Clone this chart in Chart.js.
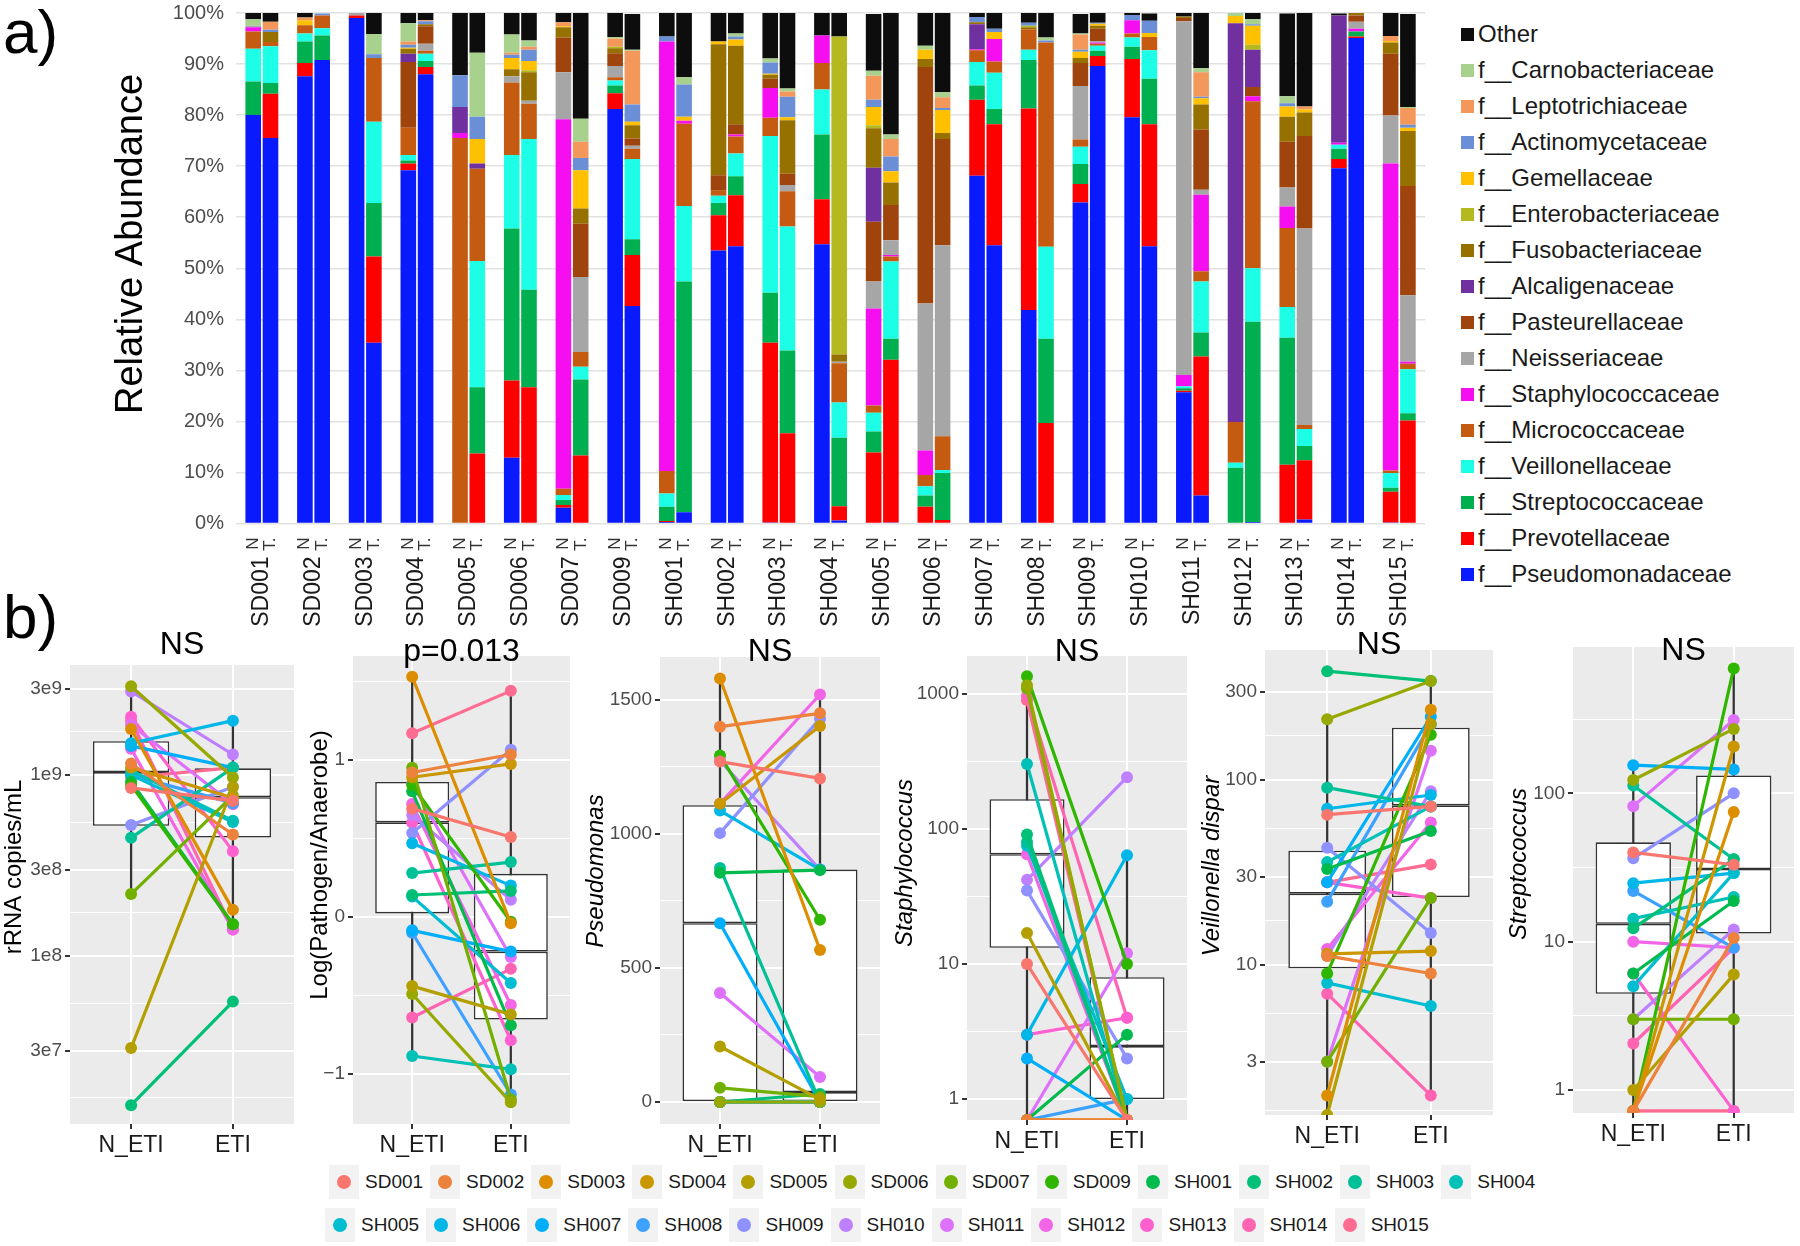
<!DOCTYPE html>
<html>
<head>
<meta charset="utf-8">
<script src="https://cdn.jsdelivr.net/npm/chart.js@4.4.0/dist/chart.umd.min.js"></script>
<style>
  html, body { margin: 0; padding: 0; background: #fff; }
  body { width: 1800px; height: 1246px; position: relative; overflow: hidden; font-family: 'Liberation Sans', Arial, sans-serif; }
  .holder { position: absolute; }
  .tag { position: absolute; font-size: 62px; line-height: 1; color: #000; }
  #famLegend { position: absolute; left: 1461px; top: 16px; }
  #famLegend div { height: 36px; display: flex; align-items: center; font-size: 24px; color: #1a1a1a; white-space: nowrap; }
  #famLegend span { width: 13px; height: 13px; margin-right: 4px; display: inline-block; }
  .subjRow { position: absolute; display: flex; align-items: center; }
  .subjItem { display: flex; align-items: center; margin-right: 7px; font-size: 19px; color: #1a1a1a; }
  .subjKey { width: 30px; height: 34px; background: #f2f2f2; display: flex; align-items: center; justify-content: center; margin-right: 6px; }
  .subjKey i { width: 14px; height: 14px; border-radius: 50%; display: block; }
</style>
</head>
<body>
<div class="tag" style="left:3px; top:1px;">a)</div>
<div class="tag" style="left:3px; top:586px;">b)</div>

<div class="holder" style="left:0; top:-11px;"><canvas id="chartA" width="1460" height="651"></canvas></div>
<div id="famLegend"></div>

<div class="holder" style="left:-6px; top:600px;"><canvas id="p1"></canvas></div>
<div class="holder" style="left:300px; top:600px;"><canvas id="p2"></canvas></div>
<div class="holder" style="left:575px; top:600px;"><canvas id="p3"></canvas></div>
<div class="holder" style="left:885px; top:600px;"><canvas id="p4"></canvas></div>
<div class="holder" style="left:1192px; top:600px;"><canvas id="p5"></canvas></div>
<div class="holder" style="left:1498px; top:600px;"><canvas id="p6"></canvas></div>

<div class="subjRow" id="subjRow1" style="left:329px; top:1165px;"></div>
<div class="subjRow" id="subjRow2" style="left:325px; top:1208px;"></div>

<script>
// ---------- Panel a: relative abundance per sample (N, T pairs) ----------
const subjects = ['SD001', 'SD002', 'SD003', 'SD004', 'SD005', 'SD006', 'SD007', 'SD009',
    'SH001', 'SH002', 'SH003', 'SH004', 'SH005', 'SH006', 'SH007', 'SH008', 'SH009',
    'SH010', 'SH011', 'SH012', 'SH013', 'SH014', 'SH015'];

// 46 values each: SD001 N, SD001 T, SD002 N, SD002 T, ...
const pseudomonadaceae = [80, 75.5, 87.6, 90.8, 99.0, 35.4, 69.2, 88.0, 0, 0, 12.9, 0, 3.1, 0, 81.2, 42.6, 0.3, 2.2, 53.5, 54.3, 0.2, 0, 54.7, 0.6, 0, 0.2, 0, 0, 68.1, 54.5, 41.8, 0, 62.9, 89.6, 79.6, 54.3, 25.7, 5.5, 0, 0.3, 0, 0.8, 69.6, 95.1, 0.2, 0];
const prevotellaceae = [0, 8.7, 2.6, 0, 0.5, 16.9, 1.3, 1.4, 0, 13.7, 15.1, 26.7, 0.5, 13.3, 3.1, 10.0, 0.2, 0, 6.9, 10.0, 35.2, 17.7, 8.8, 2.8, 13.9, 31.9, 3.3, 0.7, 14.9, 23.7, 39.5, 19.7, 3.6, 2.0, 11.4, 23.9, 0.3, 27.2, 0, 0, 11.5, 11.6, 1.8, 0.3, 6.0, 20.2];
const streptococcaceae = [6.6, 2.1, 4.2, 4.8, 0, 10.5, 0.6, 1.2, 0, 13.0, 29.8, 19.1, 1.0, 14.9, 1.5, 3.1, 2.8, 45.2, 2.4, 3.7, 9.8, 16.2, 12.7, 13.4, 4.1, 4.1, 2.2, 9.2, 2.8, 3.0, 9.5, 16.5, 3.9, 1.0, 2.4, 8.9, 0.5, 4.7, 10.9, 39.2, 24.9, 2.8, 2.0, 1.0, 0.8, 1.4];
const veillonellaceae = [6.4, 7.2, 1.6, 1.4, 0, 15.9, 1.1, 1.4, 0, 24.7, 14.4, 29.5, 1.0, 2.5, 1.0, 15.7, 2.6, 14.8, 1.4, 4.5, 30.7, 24.3, 8.8, 6.9, 3.7, 15.1, 1.8, 0.6, 4.6, 7.1, 2.0, 18.0, 3.4, 1.0, 1.8, 5.6, 0.4, 10.0, 1.0, 10.5, 6.0, 3.3, 0.8, 0, 2.9, 8.6];
const micrococcaceae = [3.4, 0.8, 1.6, 2.5, 0, 12.5, 5.3, 0.6, 75.5, 18.1, 14.2, 6.9, 1.2, 2.9, 0.6, 2.0, 4.4, 16.1, 1.0, 3.3, 3.6, 6.9, 5.2, 7.7, 1.4, 1.0, 2.2, 6.6, 2.3, 2.2, 4.0, 40.0, 1.4, 0.4, 0.8, 2.6, 0, 2.0, 8.0, 32.7, 15.5, 0.8, 0, 0, 0.5, 1.1];
const staphylococcaceae = [0.8, 0, 0, 0, 0, 0, 0, 0, 1.0, 0, 0, 0, 72.4, 0, 0, 0, 84.1, 0.6, 0, 0.4, 5.8, 0, 5.4, 0, 19.0, 0.3, 4.8, 0, 0.2, 4.4, 0, 0, 0, 0.2, 2.6, 0, 2.2, 15.0, 0, 1.0, 4.2, 0, 0.4, 0.5, 60.1, 0.4];
const neisseriaceae = [0.3, 0, 0, 0, 0.5, 0, 0, 1.4, 0, 0, 1.2, 0.6, 9.2, 14.7, 2.2, 0.6, 0, 0, 0, 0, 0, 1.2, 0, 0.3, 5.3, 2.9, 28.8, 37.4, 0, 0, 0, 0, 10.5, 0.3, 0, 0, 69.3, 1.0, 0, 0, 3.7, 38.5, 0, 1.4, 9.4, 13.0];
const pasteurellaceae = [0, 0, 0, 0, 0, 0, 12.9, 3.4, 0, 0, 0, 0, 6.8, 10.4, 2.5, 1.4, 0, 0, 3.0, 2.0, 1.8, 2.2, 0, 0, 11.7, 6.9, 46.3, 20.8, 0, 0, 0, 0, 4.5, 2.4, 0, 0, 0.6, 11.8, 0, 1.8, 9.0, 18.1, 0, 1.2, 12.1, 21.4];
const alcaligenaceae = [0, 0, 0, 0, 0, 0, 1.6, 0, 5.1, 1.0, 0, 0, 0, 0, 0, 0, 0, 0, 0, 0, 0, 0, 0, 0, 10.6, 0, 0, 0, 4.9, 0, 0, 0, 0, 0, 0, 0, 0, 0, 78.1, 7.3, 0, 0, 24.9, 0, 0, 0];
const fusobacteriaceae = [0, 2.0, 0, 0, 0, 0, 1.0, 0.4, 0, 0, 1.4, 5.6, 2.0, 3.0, 1.0, 2.6, 0, 0, 25.7, 15.4, 0.8, 10.5, 0, 1.4, 7.7, 4.4, 1.6, 1.2, 0.4, 0, 0.4, 0, 1.0, 0.6, 0, 0, 0.3, 4.9, 0, 0, 4.9, 4.6, 0, 0.5, 2.2, 10.8];
const enterobacteriaceae = [0, 0, 0, 0, 0, 0, 0, 0, 0, 0, 0, 0.4, 0, 0, 0.3, 0, 0, 0, 0, 0, 0, 0, 0, 62.3, 0.6, 0, 0, 0, 0, 0, 0.3, 0, 0, 0, 0, 0, 0, 0, 0, 1.0, 0, 0, 0, 0, 0, 0];
const gemellaceae = [0, 0, 1.0, 0, 0, 0, 0.2, 0, 0, 4.8, 2.2, 1.8, 0.2, 7.5, 0, 0.7, 0, 0.8, 0.5, 1.2, 0.2, 0.6, 0, 0, 3.6, 2.2, 1.8, 4.5, 0, 1.4, 0, 0, 1.2, 0.4, 0, 0.8, 0, 1.2, 1.4, 3.7, 2.0, 0.6, 0, 0, 0.3, 0.6];
const actinomycetaceae = [0, 0.4, 0, 0.4, 0, 0.7, 0.6, 0.6, 6.2, 4.4, 0.6, 2.2, 0, 2.4, 0, 3.4, 1.0, 6.3, 0, 0.6, 2.2, 4.0, 0, 0, 1.4, 2.9, 0, 0.4, 1.0, 0.6, 0.6, 0.4, 0.4, 0.2, 1.0, 2.4, 0, 0.3, 0, 0.3, 0.6, 0, 0, 0, 0, 0.6];
const leptotrichiaceae = [0, 1.6, 0.5, 0, 0, 0, 0.6, 0.2, 0, 0, 0.4, 0.6, 0.8, 3.2, 1.6, 10.5, 0, 0, 0, 0, 0, 1.0, 0, 0, 4.7, 3.4, 0, 2.1, 0, 0, 0, 0, 3.0, 0, 0, 0, 0, 4.8, 0, 0, 0, 0.6, 0, 0, 1.0, 3.3];
const carnobacteriaceae = [1.3, 0, 0, 0, 0, 4.0, 3.6, 0, 0, 12.5, 3.6, 1.2, 0, 4.5, 0.3, 0.2, 0, 1.4, 0, 0.6, 0.8, 0.6, 0, 0, 1.0, 0.9, 0.8, 1.0, 0, 0, 0, 0.6, 0.2, 0, 0, 0, 0, 0.8, 0.6, 1.0, 1.4, 0, 0, 0, 0, 0.2];
const other = [1.2, 1.8, 0.9, 0, 0, 4.1, 2.0, 1.6, 12.2, 7.8, 4.2, 5.4, 1.8, 20.7, 4.9, 7.0, 4.6, 12.6, 5.6, 4.0, 9.0, 14.8, 4.4, 4.6, 11.1, 23.8, 6.4, 15.5, 0.8, 3.1, 1.9, 4.8, 3.8, 2.0, 0.4, 1.4, 0.7, 11.0, 0, 1.4, 16.2, 18.4, 0.4, 0, 4.6, 18.2];

// ---------- Panel b: paired values per subject (N_ETI, ETI) ----------
// a value of 0 on a log axis is drawn on the lower panel edge, as ggplot does with -Inf
const rrnaN = [8.5e8, 1.16e9, 1.8e9, 1.1e9, 3.1e7, 3.1e9, 2.2e8, 8.8e8, 9.2e8, 1.5e7, 4.5e8, 1.06e9, 1.0e9, 1.5e9, 1.45e9, 1.0e9, 5.3e8, 2.9e9, 1.9e9, 1.4e9, 2.1e9, 2.0e9, 9.7e8];
const rrnaE = [7.2e8, 4.7e8, 1.8e8, 7.5e8, 8.6e8, 9.7e8, 7.7e8, 1.5e8, 1.5e8, 5.6e7, 1.1e9, 5.6e8, 5.5e8, 2.0e9, 1.1e9, 7.0e8, 8.6e8, 1.3e9, 6.9e8, 1.4e8, 3.8e8, 1.4e8, 1.1e9];
const ratioN = [0.69, 0.92, 1.53, 0.89, -0.44, -0.49, 0.95, 0.84, 0.80, 0.14, 0.28, -0.885, 0.13, 0.47, -0.085, -0.10, 0.535, 0.65, 0.85, 0.72, 0.60, -0.64, 1.17];
const ratioE = [0.51, 1.035, -0.04, 0.975, -0.62, -1.18, -1.16, -0.03, -0.69, 0.166, 0.35, -0.97, -0.42, 0.20, -0.22, -1.13, 1.065, 0.11, -0.255, -0.56, -0.785, -0.33, 1.44];
const pseudoN = [1270, 1400, 1580, 1113, 207, 0, 53, 1293, 855, 0, 873, 0, 0, 1087, 667, 0, 1003, 1273, 407, 1113, 0, 0, 0];
const pseudoE = [1207, 1450, 567, 1403, 10, 0, 20, 680, 865, 30, 0, 0, 0, 867, 0, 0, 1430, 867, 93, 1520, 0, 0, 0];
const staphN = [10, 0, 0, 0, 17, 1160, 1100, 1350, 0, 91, 80, 303, 75, 3, 2, 0, 35, 42, 0, 65, 3, 964, 900];
const staphE = [0, 0, 0, 0, 0, 0, 0, 10, 3, 0, 0, 0, 1, 64, 0, 1, 2, 242, 12, 0, 4, 4, 0];
const veilN = [65, 11.2, 1.97, 11.5, 0, 213, 3.0, 9.0, 33, 388, 91, 36, 8.0, 70, 28, 22, 43, 11.2, 3.0, 12.2, 28, 7.0, 28];
const veilE = [72, 9.0, 240, 11.9, 201, 343, 23, 176, 53, 343, 72, 72, 6.0, 83, 220, 200, 14.9, 87, 144, 59, 23, 1.97, 35];
const streptN = [40, 0, 0, 0, 1.0, 123, 3.0, 0, 6.1, 12.3, 113, 14.3, 5.0, 24.8, 155, 22, 36.5, 3.0, 82, 10, 6.1, 2.06, 0];
const streptE = [33, 10.6, 75, 207, 6.0, 272, 3.0, 695, 18.8, 36, 36, 20, 29, 29, 145, 9.1, 100, 12.1, 312, 9.1, 0, 9.1, 0];

// box statistics: [lower whisker, Q1, median, Q3, upper whisker]
const rrnaBoxN = [2.2e8, 5.25e8, 1.04e9, 1.54e9, 3.08e9];
const rrnaBoxE = [1.37e8, 4.52e8, 7.55e8, 1.09e9, 1.98e9];
const ratioBoxN = [-0.885, 0.023, 0.603, 0.86, 1.53];
const ratioBoxE = [-1.18, -0.653, -0.22, 0.275, 1.44];
const pseudoBoxN = [0, 3, 667, 1107, 1580];
const pseudoBoxE = [0, 0, 37, 867, 1520];
const staphBoxN = [0, 13.2, 65, 166, 1350];
const staphBoxE = [0, 1.0, 2.47, 8.0, 64];
const veilBoxN = [0, 9.6, 24.3, 41.5, 213];
const veilBoxE = [1.97, 23.3, 73, 192, 343];
const streptBoxN = [0, 4.45, 13.2, 46.8, 155];
const streptBoxE = [0, 11.35, 30.9, 132, 695];

Chart.defaults.font.family = "'Liberation Sans', Arial, sans-serif";

/**
 * ggplot2 default hue palette colour (hcl with c = 100, l = 65).
 */
function hueColor(h) {
    const L = 65, C = 100, rad = h * Math.PI / 180;
    const U = C * Math.cos(rad), V = C * Math.sin(rad);
    const Y = Math.pow((L + 16) / 116, 3);
    const Xn = 0.95047, Yn = 1, Zn = 1.08883;
    const den = Xn + 15 * Yn + 3 * Zn;
    const u = U / (13 * L) + 4 * Xn / den;
    const v = V / (13 * L) + 9 * Yn / den;
    const X = Y * 9 * u / (4 * v);
    const Z = Y * (12 - 3 * u - 20 * v) / (4 * v);
    const lin = [
        3.240479 * X - 1.537150 * Y - 0.498535 * Z,
        -0.969256 * X + 1.875992 * Y + 0.041556 * Z,
        0.055648 * X - 0.204043 * Y + 1.057311 * Z
    ];
    return '#' + lin.map(c => {
        c = c <= 0.0031308 ? 12.92 * c : 1.055 * Math.pow(c, 1 / 2.4) - 0.055;
        c = Math.round(Math.min(1, Math.max(0, c)) * 255);
        return c.toString(16).padStart(2, '0');
    }).join('');
}
const subjectColors = subjects.map((s, i) => hueColor(15 + i * 360 / subjects.length));

// families, bottom of the stack first
const families = [
    ['f__Pseudomonadaceae', pseudomonadaceae, '#0a1aff'],
    ['f__Prevotellaceae', prevotellaceae, '#ff0000'],
    ['f__Streptococcaceae', streptococcaceae, '#00b050'],
    ['f__Veillonellaceae', veillonellaceae, '#1cffe6'],
    ['f__Micrococcaceae', micrococcaceae, '#c55a11'],
    ['f__Staphylococcaceae', staphylococcaceae, '#f50ff0'],
    ['f__Neisseriaceae', neisseriaceae, '#a6a6a6'],
    ['f__Pasteurellaceae', pasteurellaceae, '#9e440c'],
    ['f__Alcaligenaceae', alcaligenaceae, '#7030a0'],
    ['f__Fusobacteriaceae', fusobacteriaceae, '#967100'],
    ['f__Enterobacteriaceae', enterobacteriaceae, '#b4b91f'],
    ['f__Gemellaceae', gemellaceae, '#ffc000'],
    ['f__Actinomycetaceae', actinomycetaceae, '#6a8fd6'],
    ['f__Leptotrichiaceae', leptotrichiaceae, '#f4975b'],
    ['f__Carnobacteriaceae', carnobacteriaceae, '#a9d18e'],
    ['Other', other, '#0d0d0d']
];

/**
 * Draws the small "N" / "T." labels under each bar of a pair.
 */
const pairLabels = {
    id: 'pairLabels',
    afterDraw(chart) {
        const { ctx, chartArea, scales: { x } } = chart;
        ctx.save();
        ctx.font = "17px 'Liberation Sans', Arial, sans-serif";
        ctx.fillStyle = '#333';
        ctx.textAlign = 'right';
        ctx.textBaseline = 'middle';
        subjects.forEach((s, i) => {
            const cx = x.getPixelForValue(i);
            [['N', -8.8], ['T.', 8.8]].forEach(([t, dx]) => {
                ctx.save();
                ctx.translate(cx + dx, chartArea.bottom + 14);
                ctx.rotate(-Math.PI / 2);
                ctx.fillText(t, 0, 0);
                ctx.restore();
            });
        });
        ctx.restore();
    }
};

/**
 * Rotated y-axis title at a fixed centre (ggplot places it off the panel centre here).
 */
const axisTitle = {
    id: 'axisTitle',
    afterDraw(chart, args, opts) {
        const { ctx } = chart;
        ctx.save();
        ctx.font = `${opts.italic ? 'italic ' : ''}${opts.size}px 'Liberation Sans', Arial, sans-serif`;
        ctx.fillStyle = '#000';
        ctx.textAlign = 'center';
        ctx.textBaseline = 'middle';
        ctx.translate(opts.x, opts.y);
        ctx.rotate(-Math.PI / 2);
        ctx.fillText(opts.text, 0, 0);
        ctx.restore();
    }
};

function drawAbundance() {
    const datasets = [];
    families.forEach(([name, values, color]) => {
        ['N', 'T'].forEach((side, k) => {
            datasets.push({
                label: name,
                stack: side,
                data: values.filter((v, i) => i % 2 === k),
                backgroundColor: color,
                borderWidth: 0,
                categoryPercentage: 0.668,
                barPercentage: 0.904
            });
        });
    });

    // the canvas sits 11px above the page top, so canvas coordinates are page + 11
    new Chart(document.getElementById('chartA'), {
        type: 'bar',
        data: { labels: subjects, datasets: datasets },
        options: {
            responsive: false,
            animation: false,
            events: [],
            layout: { padding: { top: 0, right: 6, left: 0, bottom: 0 } },
            plugins: {
                legend: { display: false },
                tooltip: { enabled: false },
                axisTitle: { text: 'Relative Abundance', x: 132, y: 244 + 11, size: 38, italic: false }
            },
            scales: {
                x: {
                    stacked: true,
                    grid: { display: false, drawTicks: false },
                    border: { display: false },
                    ticks: { autoSkip: false, minRotation: 90, maxRotation: 90, padding: 33, font: { size: 23 }, color: '#1a1a1a' },
                    afterFit: s => { s.height = 651 - 534.5; }
                },
                y: {
                    stacked: true,
                    min: 0,
                    max: 100,
                    ticks: { stepSize: 10, callback: v => v + '%', font: { size: 20 }, color: '#4d4d4d', padding: 12 },
                    grid: { color: '#e2e2e2', lineWidth: 1.5, drawTicks: false },
                    border: { display: false },
                    afterFit: s => { s.width = 236; }
                }
            }
        },
        plugins: [pairLabels, axisTitle]
    });

    // legend, top entry first
    const legend = document.getElementById('famLegend');
    families.slice().reverse().forEach(([name, , color]) => {
        legend.insertAdjacentHTML('beforeend', `<div><span style="background:${color}"></span>${name}</div>`);
    });
}

// ---------- Panel b helpers ----------
/**
 * Midpoints between major breaks (in transformed space), as ggplot's minor breaks.
 */
function minorBreaks(majors, min, max, log) {
    const t = log ? majors.map(Math.log10) : majors.slice();
    const n = t.length;
    const ext = [t[0] - (t[1] - t[0]), ...t, t[n - 1] + (t[n - 1] - t[n - 2])];
    const out = [];
    for (let i = 0; i < ext.length - 1; i++) {
        const m = (ext[i] + ext[i + 1]) / 2;
        const v = log ? Math.pow(10, m) : m;
        if (v >= min && v <= max) out.push(v);
    }
    return out;
}

const panelBg = {
    id: 'panelBg',
    beforeDraw(chart) {
        const { ctx, chartArea: a } = chart;
        ctx.save();
        ctx.fillStyle = '#ebebeb';
        ctx.fillRect(a.left, a.top, a.width, a.height);
        ctx.restore();
    }
};

const panelTitle = {
    id: 'panelTitle',
    afterDraw(chart, args, opts) {
        const { ctx, chartArea: a } = chart;
        ctx.save();
        ctx.font = "32px 'Liberation Sans', Arial, sans-serif";
        ctx.fillStyle = '#000';
        ctx.textAlign = 'center';
        ctx.textBaseline = 'middle';
        ctx.fillText(opts.text, (a.left + a.right) / 2, opts.y);
        ctx.restore();
    }
};

const panels = [
    { id: 'p1', title: 'NS', titleY: 645, yTitle: 'rRNA copies/mL', italic: false, yTitleX: 14, yTitleY: 867,
      log: true, min: 1.18e7, max: 4.06e9, majors: [3e7, 1e8, 3e8, 1e9, 3e9], labels: ['3e7', '1e8', '3e8', '1e9', '3e9'],
      n: rrnaN, e: rrnaE, boxN: rrnaBoxN, boxE: rrnaBoxE,
      cLeft: -6, cRight: 300, grayL: 70, grayR: 297, top: 665, bottom: 1124 },
    { id: 'p2', title: 'p=0.013', titleY: 652, yTitle: 'Log(Pathogen/Anaerobe)', italic: false, yTitleX: 320, yTitleY: 865,
      log: false, min: -1.318, max: 1.662, majors: [-1, 0, 1], labels: ['\u22121', '0', '1'],
      n: ratioN, e: ratioE, boxN: ratioBoxN, boxE: ratioBoxE,
      cLeft: 300, cRight: 576, grayL: 353, grayR: 573, top: 656, bottom: 1124 },
    { id: 'p3', title: 'NS', titleY: 652, yTitle: 'Pseudomonas', italic: true, yTitleX: 596, yTitleY: 871,
      log: false, min: -82, max: 1660, majors: [0, 500, 1000, 1500], labels: ['0', '500', '1000', '1500'],
      n: pseudoN, e: pseudoE, boxN: pseudoBoxN, boxE: pseudoBoxE,
      cLeft: 575, cRight: 886, grayL: 660, grayR: 883, top: 657, bottom: 1124 },
    { id: 'p4', title: 'NS', titleY: 652, yTitle: 'Staphylococcus', italic: true, yTitleX: 905, yTitleY: 863,
      log: true, min: 0.70, max: 1910, majors: [1, 10, 100, 1000], labels: ['1', '10', '100', '1000'],
      n: staphN, e: staphE, boxN: staphBoxN, boxE: staphBoxE,
      cLeft: 885, cRight: 1193, grayL: 967, grayR: 1190, top: 656, bottom: 1120 },
    { id: 'p5', title: 'NS', titleY: 645, yTitle: 'Veillonella dispar', italic: true, yTitleX: 1212, yTitleY: 866,
      log: true, min: 1.545, max: 505, majors: [3, 10, 30, 100, 300], labels: ['3', '10', '30', '100', '300'],
      n: veilN, e: veilE, boxN: veilBoxN, boxE: veilBoxE,
      cLeft: 1192, cRight: 1499, grayL: 1265, grayR: 1496, top: 650, bottom: 1115 },
    { id: 'p6', title: 'NS', titleY: 651, yTitle: 'Streptococcus', italic: true, yTitleX: 1519, yTitleY: 864,
      log: true, min: 0.723, max: 970, majors: [1, 10, 100], labels: ['1', '10', '100'],
      n: streptN, e: streptE, boxN: streptBoxN, boxE: streptBoxE,
      cLeft: 1498, cRight: 1800, grayL: 1573, grayR: 1796, top: 647, bottom: 1113 }
];

/**
 * One paired box plot panel: whiskers, box halves (the shared edge forms the
 * thick median line), then one line per subject.
 */
function drawPanel(p) {
    const canvas = document.getElementById(p.id);
    canvas.width = p.cRight - p.cLeft;
    canvas.height = 560;
    const fix = v => (p.log && v <= 0) ? p.min : v;
    const isMajor = v => p.majors.some(m => Math.abs(m - v) < Math.abs(m) * 1e-9 + 1e-12);
    const tickVals = p.majors.concat(minorBreaks(p.majors, p.min, p.max, p.log)).sort((a, b) => a - b);

    const datasets = [];
    datasets.push({
        type: 'bar', order: 30, grouped: false,
        data: [{ x: 1, y: [fix(p.boxN[0]), fix(p.boxN[4])] }, { x: 2, y: [fix(p.boxE[0]), fix(p.boxE[4])] }],
        backgroundColor: '#333', borderWidth: 0, barThickness: 1.6
    });
    [[1, 2], [2, 3]].forEach(([lo, hi]) => {
        datasets.push({
            type: 'bar', order: 20, grouped: false,
            data: [{ x: 1, y: [fix(p.boxN[lo]), fix(p.boxN[hi])] }, { x: 2, y: [fix(p.boxE[lo]), fix(p.boxE[hi])] }],
            backgroundColor: '#fff', borderColor: '#333', borderWidth: 1.6, borderSkipped: false,
            categoryPercentage: 0.75, barPercentage: 1
        });
    });
    subjects.forEach((s, i) => {
        datasets.push({
            type: 'line', order: 0, label: s,
            data: [{ x: 1, y: fix(p.n[i]) }, { x: 2, y: fix(p.e[i]) }],
            borderColor: subjectColors[i], backgroundColor: subjectColors[i],
            pointBackgroundColor: subjectColors[i], pointBorderWidth: 0,
            borderWidth: 3.2, pointRadius: 6, pointHoverRadius: 6
        });
    });

    new Chart(canvas, {
        type: 'bar',
        data: { datasets: datasets },
        options: {
            responsive: false,
            animation: false,
            events: [],
            layout: { padding: { top: p.top - 600, right: p.cRight - p.grayR, left: 0, bottom: 0 } },
            plugins: {
                legend: { display: false },
                tooltip: { enabled: false },
                panelTitle: { text: p.title, y: p.titleY - 600 },
                axisTitle: { text: p.yTitle, x: p.yTitleX - p.cLeft, y: p.yTitleY - 600, size: 24, italic: p.italic }
            },
            scales: {
                x: {
                    type: 'linear', min: 0.4, max: 2.6, offset: false,
                    afterBuildTicks: s => { s.ticks = [{ value: 1 }, { value: 2 }]; },
                    afterFit: s => { s.height = 1160 - p.bottom; },
                    ticks: { autoSkip: false, maxRotation: 0, padding: 3, font: { size: 23 }, color: '#1a1a1a',
                             callback: v => (v === 1 ? 'N_ETI' : 'ETI') },
                    grid: { color: '#fff', lineWidth: 2, tickColor: '#333', tickLength: 5, offset: false },
                    border: { display: false }
                },
                y: {
                    type: p.log ? 'logarithmic' : 'linear',
                    min: p.min, max: p.max,
                    afterBuildTicks: s => { s.ticks = tickVals.map(v => ({ value: v })); },
                    afterFit: s => { s.width = p.grayL - p.cLeft; },
                    ticks: {
                        autoSkip: false, padding: 3, font: { size: 19 }, color: '#4d4d4d',
                        callback: v => {
                            const k = p.majors.findIndex(m => Math.abs(m - v) < Math.abs(m) * 1e-9 + 1e-12);
                            return k >= 0 ? p.labels[k] : '';
                        }
                    },
                    grid: {
                        color: '#fff',
                        lineWidth: c => (c.tick && isMajor(c.tick.value) ? 2 : 1),
                        tickColor: c => (c.tick && isMajor(c.tick.value) ? '#333' : 'rgba(0,0,0,0)'),
                        tickLength: 5
                    },
                    border: { display: false }
                }
            }
        },
        plugins: [panelBg, panelTitle, axisTitle]
    });
}

function drawSubjectLegend() {
    subjects.forEach((s, i) => {
        const row = document.getElementById(i < 12 ? 'subjRow1' : 'subjRow2');
        row.insertAdjacentHTML('beforeend',
            `<div class="subjItem"><div class="subjKey"><i style="background:${subjectColors[i]}"></i></div>${s}</div>`);
    });
}

drawAbundance();
panels.forEach(drawPanel);
drawSubjectLegend();
</script>
</body>
</html>
